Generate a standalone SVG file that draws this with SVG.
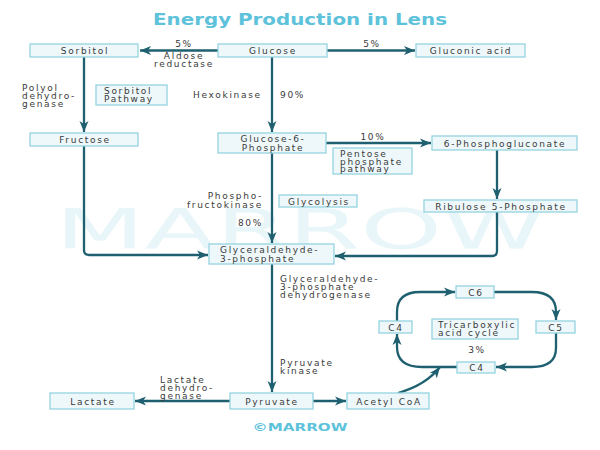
<svg xmlns="http://www.w3.org/2000/svg" width="600" height="450" viewBox="0 0 600 450">
<style>
.bx{fill:#eef8fb;stroke:#95d3e1;stroke-width:1.3}
.t{font-family:"DejaVu Sans",sans-serif;font-size:9px;letter-spacing:1.7px;fill:#3a3a3a}
.m{text-anchor:middle}
.c{fill:none;stroke:#1f6070;stroke-width:2.3;marker-end:url(#ah)}
</style>
<defs>
<marker id="ah" markerUnits="userSpaceOnUse" markerWidth="12" markerHeight="10" refX="11" refY="5" orient="auto">
<path d="M0,0.5 L11,5 L0,9.5 L3,5 z" fill="#1f6070"/>
</marker>
</defs>
<rect width="600" height="450" fill="#ffffff"/>
<text x="300" y="248" text-anchor="middle" font-family="'DejaVu Sans',sans-serif" font-size="56" fill="#e9f6f9" textLength="490" lengthAdjust="spacingAndGlyphs">MARROW</text>
<text x="300" y="25" text-anchor="middle" font-family="'DejaVu Sans',sans-serif" font-weight="bold" font-size="15.5" fill="#5dc2da" textLength="294" lengthAdjust="spacingAndGlyphs">Energy Production in Lens</text>
<g id="connectors">
<path class="c" d="M218,50.5 L140,50.5"/>
<path class="c" d="M327,50.5 L415,50.5"/>
<path class="c" d="M84,57 L84,132"/>
<path class="c" d="M272,57 L272,132"/>
<path class="c" d="M326,143 L431,143"/>
<path class="c" d="M497,150 L497,199"/>
<path class="c" d="M272,153 L272,243"/>
<path class="c" d="M84,146 L84,250 Q84,255 89,255 L208,255"/>
<path class="c" d="M497,212 L497,251 Q497,256 492,256 L335,256"/>
<path class="c" d="M272,264 L272,392"/>
<path class="c" d="M230,401 L135,401"/>
<path class="c" d="M313,401 L346,401"/>
<path class="c" d="M398,393 Q426,385 440,367"/>
<path class="c" d="M397,321 L397,312 Q397,292 420,292 L455,292"/>
<path class="c" d="M494,292 L532,292 Q556,292 556,312 L556,320"/>
<path class="c" d="M556,333 L556,348 Q556,367 532,367 L496,367"/>
<path class="c" d="M457,367 L422,367 Q397,367 397,347 L397,334"/>
</g>
<g id="labels">
<text class="t m" x="184" y="47">5%</text>
<text class="t m" x="184" y="58.5">Aldose</text>
<text class="t m" x="184" y="66.5">reductase</text>
<text class="t m" x="372" y="47">5%</text>
<text class="t" x="22" y="91">Polyol</text>
<text class="t" x="22" y="99">dehydro-</text>
<text class="t" x="22" y="107">genase</text>
<text class="t" x="193" y="98">Hexokinase</text>
<text class="t" x="280" y="98">90%</text>
<text class="t m" x="373" y="140">10%</text>
<text class="t" x="263" y="199" text-anchor="end">Phospho-</text>
<text class="t" x="263" y="207.5" text-anchor="end">fructokinase</text>
<text class="t" x="263" y="226" text-anchor="end">80%</text>
<text class="t" x="280" y="282">Glyceraldehyde-</text>
<text class="t" x="280" y="290">3-phosphate</text>
<text class="t" x="280" y="298">dehydrogenase</text>
<text class="t" x="280" y="366">Pyruvate</text>
<text class="t" x="280" y="374">kinase</text>
<text class="t" x="160" y="383">Lactate</text>
<text class="t" x="160" y="391">dehydro-</text>
<text class="t" x="160" y="399">genase</text>
<text class="t m" x="477" y="353">3%</text>
</g>
<g id="sorbitol"><rect class="bx" x="30" y="44" width="108" height="13"/><text class="t m" x="85" y="54">Sorbitol</text></g>
<g id="glucose"><rect class="bx" x="218" y="44" width="109" height="13"/><text class="t m" x="273" y="54">Glucose</text></g>
<g id="gluconic"><rect class="bx" x="416" y="44" width="109" height="13"/><text class="t m" x="471" y="54">Gluconic acid</text></g>
<g id="sorbitol-pathway"><rect class="bx" x="96" y="85" width="71" height="20"/><text class="t" x="104" y="93.5">Sorbitol</text><text class="t" x="104" y="102">Pathway</text></g>
<g id="fructose"><rect class="bx" x="30" y="133" width="108" height="13"/><text class="t m" x="85" y="143">Fructose</text></g>
<g id="g6p"><rect class="bx" x="218" y="133" width="108" height="20"/><text class="t m" x="273" y="141.5">Glucose-6-</text><text class="t m" x="273" y="150.5">Phosphate</text></g>
<g id="pg6"><rect class="bx" x="432" y="136" width="145" height="14"/><text class="t m" x="505" y="146.5">6-Phosphogluconate</text></g>
<g id="pentose"><rect class="bx" x="333" y="148" width="79" height="26"/><text class="t" x="340" y="156.5">Pentose</text><text class="t" x="340" y="164.5">phosphate</text><text class="t" x="340" y="172">pathway</text></g>
<g id="glycolysis"><rect class="bx" x="279" y="195" width="78" height="12"/><text class="t m" x="319" y="204.5">Glycolysis</text></g>
<g id="ribulose"><rect class="bx" x="424" y="200" width="153" height="12"/><text class="t m" x="501" y="209.5">Ribulose 5-Phosphate</text></g>
<g id="g3p"><rect class="bx" x="209" y="244" width="125" height="20"/><text class="t" x="220" y="252.5">Glyceraldehyde-</text><text class="t" x="220" y="261.5">3-phosphate</text></g>
<g id="lactate"><rect class="bx" x="50" y="393" width="84" height="16"/><text class="t m" x="93" y="404.5">Lactate</text></g>
<g id="pyruvate"><rect class="bx" x="230" y="393" width="83" height="16"/><text class="t m" x="272" y="404.5">Pyruvate</text></g>
<g id="acetyl"><rect class="bx" x="347" y="393" width="82" height="16"/><text class="t m" x="389" y="404.5">Acetyl CoA</text></g>
<g id="c6"><rect class="bx" x="456" y="286" width="38" height="12"/><text class="t m" x="476" y="295.5">C6</text></g>
<g id="c4a"><rect class="bx" x="379" y="321" width="33" height="12"/><text class="t m" x="396" y="330.5">C4</text></g>
<g id="c5"><rect class="bx" x="536" y="321" width="39" height="12"/><text class="t m" x="556" y="330.5">C5</text></g>
<g id="c4b"><rect class="bx" x="457" y="362" width="38" height="11"/><text class="t m" x="477" y="371">C4</text></g>
<g id="tca"><rect class="bx" x="432" y="319" width="86" height="20"/><text class="t" x="438" y="327.5">Tricarboxylic</text><text class="t" x="438" y="336">acid cycle</text></g>
<text x="300" y="431" text-anchor="middle" font-family="'DejaVu Sans',sans-serif" font-weight="bold" font-size="10.5" fill="#5dc2da" textLength="95" lengthAdjust="spacingAndGlyphs">©MARROW</text>
</svg>
